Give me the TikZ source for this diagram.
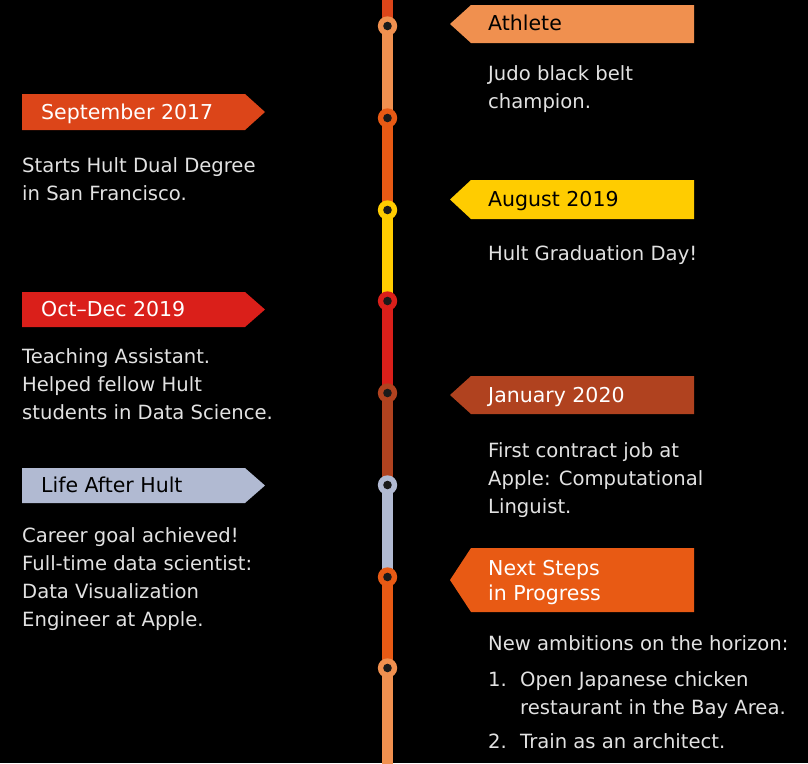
\documentclass[tikz,border=0pt]{standalone}
\usepackage{fontspec}
\setmainfont{DejaVu Sans}
\definecolor{sepred}{HTML}{DC4519}
\definecolor{peach}{HTML}{F0904F}
\definecolor{tangerine}{HTML}{E85A14}
\definecolor{gold}{HTML}{FFCC00}
\definecolor{scarlet}{HTML}{DA1F1A}
\definecolor{rust}{HTML}{B0421F}
\definecolor{slate}{HTML}{B1BAD2}
\definecolor{hole}{HTML}{1A1A1A}
\definecolor{bodytext}{HTML}{E2E2E2}
\tikzset{
  track/.style={line width=11pt},
  ring/.style={circle,inner sep=0pt,minimum size=19.4pt,fill=#1},
  holedot/.style={circle,inner sep=0pt,minimum size=8.6pt,fill=hole},
  tag/.style={inner sep=0pt,anchor=base west,font=\fontsize{20.5}{25}\selectfont},
  blurb/.style={inner sep=0pt,anchor=base west,text=bodytext,font=\fontsize{19.6}{28}\selectfont}
}

\begin{document}
\begin{tikzpicture}[x=1pt,y=-1pt]
\fill[black] (0,0) rectangle (808,763);
\useasboundingbox (0,0) rectangle (808,763);

% stops along the line
\foreach \i/\y in {1/26,2/118,3/210,4/301,5/393,6/485,7/577,8/668}
  \coordinate (s\i) at (387.5,\y);
\coordinate (top) at (387.5,-3);
\coordinate (bot) at (387.5,766);

\foreach \a/\b/\c in {top/s1/sepred, s1/s2/peach, s2/s3/tangerine, s3/s4/gold,
  s4/s5/scarlet, s5/s6/rust, s6/s7/slate, s7/s8/tangerine, s8/bot/peach}
  \draw[track,\c] (\a) -- (\b);

\foreach \i/\c in {1/peach,2/tangerine,3/gold,4/scarlet,5/rust,6/slate,7/tangerine,8/peach}
{
  \node[ring=\c] (r\i) at (s\i) {};
  \node[holedot] (h\i) at (r\i) {};
}

% left flags
\foreach \n/\yt/\yb/\c/\tc/\t in {sep/94/130/sepred/white/September 2017,
  oct/292/327/scarlet/white/Oct–Dec 2019, life/468/503/slate/black/Life After Hult}
{
  \fill[\c] (22,\yt) -- (245,\yt) -- (265,{(\yt+\yb)/2}) -- (245,\yb) -- (22,\yb) -- cycle;
  \node[tag,text=\tc] (\n) at (41,{(\yt+\yb)/2+7}) {\t};
}

% right flags
\foreach \n/\yt/\yb/\c/\tc/\t/\yl in {ath/5/43/peach/black/Athlete/30.5,
  aug/180/219/gold/black/August 2019/206, jan/376/414/rust/white/January 2020/402,
  next/548/612/tangerine/white/Next Steps\\in Progress/575}
{
  \fill[\c] (694,\yt) -- (471,\yt) -- (450,{(\yt+\yb)/2}) -- (471,\yb) -- (694,\yb) -- cycle;
  \node[tag,text=\tc] (\n) at (488,\yl) {\parbox[t]{200pt}{\t}};
}

% texts under the flags
\node[blurb] (sepB) at (22,172) {\parbox[t]{330pt}{Starts Hult Dual Degree\\in San Francisco.}};
\node[blurb] (octB) at (22,363) {\parbox[t]{330pt}{Teaching Assistant.\\Helped fellow Hult\\students in Data Science.}};
\node[blurb] (lifeB) at (22,542) {\parbox[t]{330pt}{Career goal achieved!\\Full-time data scientist:\\Data Visualization\\Engineer at Apple.}};
\node[blurb] (athB) at (488,80) {\parbox[t]{330pt}{Judo black belt\\champion.}};
\node[blurb] (augB) at (488,260) {Hult Graduation Day!};
\node[blurb] (janB) at (488,457) {\parbox[t]{330pt}{First contract job at\\Apple: Computational\\Linguist.}};
\node[blurb] (nextB) at (488,650) {\parbox[t]{330pt}{New ambitions on the horizon:\\[8pt]
  \makebox[32pt][l]{1.}Open Japanese chicken\\
  \hspace*{32pt}restaurant in the Bay Area.\\[6pt]
  \makebox[32pt][l]{2.}Train as an architect.}};
\end{tikzpicture}
\end{document}
